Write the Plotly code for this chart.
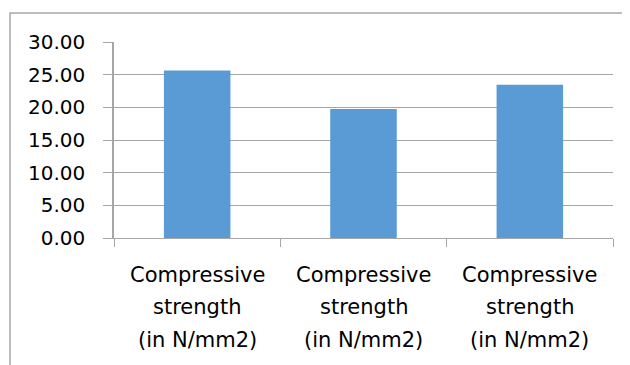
import plotly.graph_objects as go

categories = ["Compressive strength (in N/mm2)"] * 3
label_lines = ["Compressive", "strength", "(in N/mm2)"]
values = [25.65, 19.75, 23.45]
y_ticks = [0, 5, 10, 15, 20, 25, 30]

# page body has an 8px margin, so the figure is offset by 8px
OFF = 8
W, H = 630 - OFF, 365 - OFF
L, T = 114 - OFF, 42 - OFF
pw, ph = 499, 196
R, B = W - L - pw, H - T - ph

xs = list(range(len(categories)))
fig = go.Figure(go.Bar(x=xs, y=values, width=0.4, marker=dict(color="#5B9BD5", line=dict(width=0)),
                       hoverinfo="y"))

font_family = "DejaVu Sans"
grid = "#A6A6A6"

annotations = []
for i, _ in enumerate(categories):
    for j, line in enumerate(label_lines):
        annotations.append(dict(x=i, y=0, xref="x", yref="paper", text=line, showarrow=False,
                                xanchor="center", yanchor="middle", yshift=-(36.5 + 32.5 * j),
                                font=dict(family=font_family, size=21, color="#000000")))

# chart border (top-left corner visible, rest outside the view)
bx0 = (10 - 114) / pw
by1 = (238 - 13) / ph
fig.add_shape(type="rect", xref="paper", yref="paper", x0=bx0, x1=3, y0=-3, y1=by1,
              line=dict(color="#A8A8A8", width=1.5), layer="below")

fig.update_layout(
    width=W, height=H, margin=dict(l=L, r=R, t=T, b=B),
    paper_bgcolor="white", plot_bgcolor="white", showlegend=False,
    annotations=annotations,
    xaxis=dict(range=[-0.5, 2.5], tickvals=[-0.5, 0.5, 1.5, 2.5], showticklabels=False,
               ticks="outside", ticklen=8, tickcolor=grid, tickwidth=1,
               showline=True, linecolor=grid, linewidth=1, showgrid=False, zeroline=False),
    yaxis=dict(range=[0, 30], tickvals=y_ticks, tickformat=".2f",
               ticks="outside", ticklen=9, tickcolor=grid, tickwidth=1,
               showline=True, linecolor=grid, linewidth=1.5,
               showgrid=True, gridcolor=grid, gridwidth=1, zeroline=False,
               ticklabelstandoff=14,
               tickfont=dict(family=font_family, size=20, color="#000000")),
)

fig.write_html("out.html")
